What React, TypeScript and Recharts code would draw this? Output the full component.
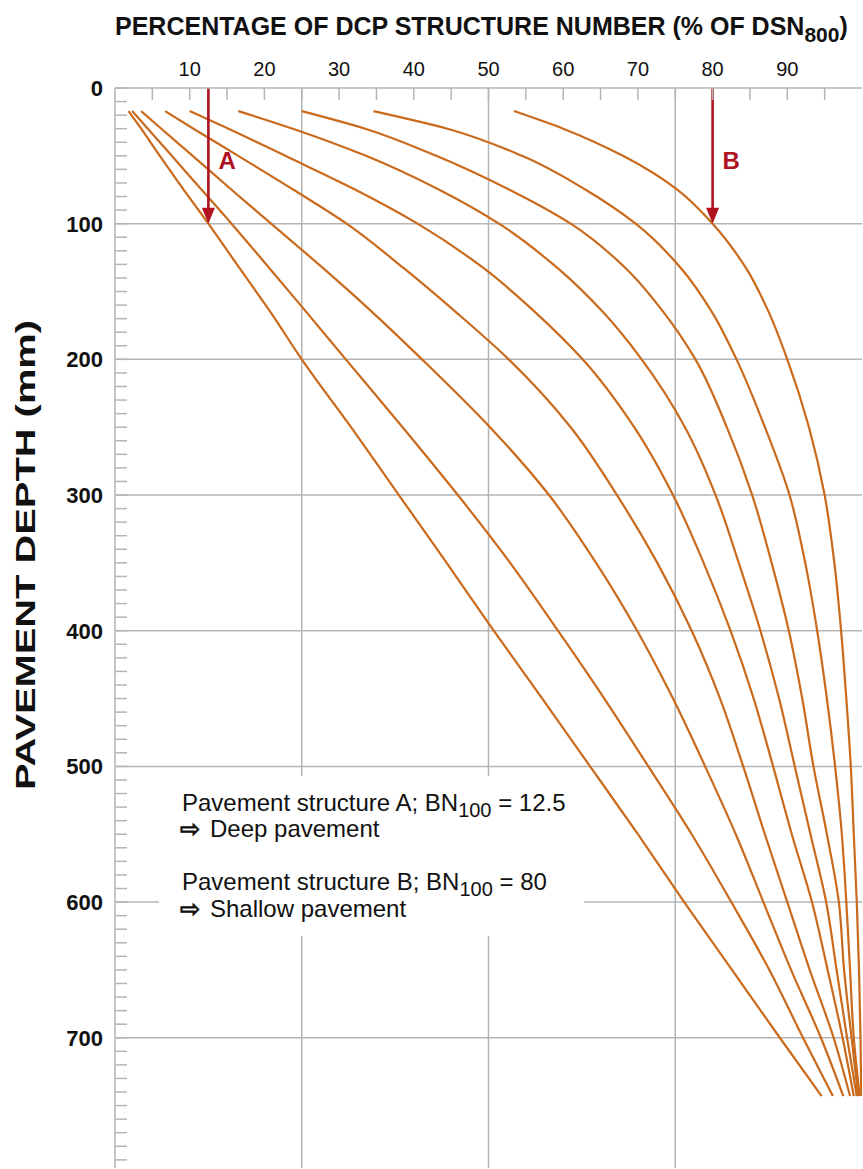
import React from 'react';
import { LineChart, Line, XAxis, YAxis, ReferenceLine } from 'recharts';

const DEPTHS = [17, 30, 50, 75, 100, 133, 165, 200, 250, 300, 350, 400, 450, 500, 550, 600, 650, 700, 743];

// percentage of DSN800 for each curve, same order as DEPTHS
const CURVE_1 = [1.8, 3.5, 6.0, 9.2, 12.5, 16.7, 20.8, 25.0, 31.6, 38.0, 44.4, 50.7, 57.2, 63.6, 70.0, 76.2, 82.6, 89.0, 94.6];
const CURVE_2 = [2.3, 4.4, 7.6, 11.6, 15.6, 20.7, 25.6, 30.9, 38.5, 45.9, 52.9, 59.3, 65.5, 71.4, 77.2, 82.5, 87.6, 92.1, 96.1];
const CURVE_3 = [3.5, 6.2, 10.4, 15.6, 20.9, 27.9, 34.4, 41.1, 50.2, 58.1, 64.4, 69.9, 74.7, 79.0, 83.1, 86.8, 90.5, 94.5, 97.5];
const CURVE_4 = [6.7, 10.5, 16.5, 23.9, 31.0, 38.7, 45.6, 52.7, 61.0, 67.2, 72.6, 77.2, 81.0, 84.1, 87.0, 90.0, 93.0, 96.2, 98.4];
const CURVE_5 = [10.0, 15.2, 22.8, 32.2, 40.5, 49.4, 56.2, 62.6, 69.5, 74.7, 78.8, 82.4, 85.5, 88.1, 90.6, 93.3, 95.4, 97.4, 98.9];
const CURVE_6 = [16.5, 23.8, 33.6, 43.4, 51.4, 59.3, 65.3, 70.5, 76.3, 80.4, 83.5, 86.4, 88.9, 91.0, 93.1, 95.2, 96.6, 98.0, 99.3];
const CURVE_7 = [25.0, 33.5, 43.0, 52.8, 61.0, 68.4, 73.4, 77.7, 81.9, 85.3, 87.9, 90.2, 92.0, 93.5, 95.3, 96.9, 97.6, 98.6, 99.5];
const CURVE_8 = [34.6, 44.5, 54.5, 63.0, 69.7, 75.8, 79.9, 83.2, 87.0, 90.3, 92.4, 94.0, 95.3, 96.4, 97.3, 97.9, 98.4, 98.9, 99.7];
const CURVE_9 = [53.4, 60.0, 68.0, 75.3, 80.0, 84.5, 87.5, 90.0, 92.9, 95.0, 96.3, 97.2, 97.9, 98.5, 98.9, 99.3, 99.6, 99.8, 99.9];

const CURVES = [CURVE_1, CURVE_2, CURVE_3, CURVE_4, CURVE_5, CURVE_6, CURVE_7, CURVE_8, CURVE_9];

const X_TICKS = [5, 10, 15, 20, 25, 30, 35, 40, 45, 50, 55, 60, 65, 70, 75, 80, 85, 90, 95];
const X_GRID = [25, 50, 75];
const Y_TICKS = Array.from({ length: 80 }, (_, i) => i * 10);
const Y_GRID = [100, 200, 300, 400, 500, 600, 700];

// the two worked examples: BN100 read at 100 mm depth
const EXAMPLES = [
  { name: 'A', bn: 12.5, depth: 100 },
  { name: 'B', bn: 80, depth: 100 },
];

const W = 863;
const H = 1169;
const FONT = '"Liberation Sans", Arial, Helvetica, sans-serif';
const GRID = '#b5b5b5';
const ORANGE = '#c96a1d';
const RED = '#b0121f';

function TopTick(props: any) {
  const { x, y, payload } = props;
  const v = payload.value;
  return (
    <g>
      <line x1={x} y1={y} x2={x} y2={y + 12} stroke={GRID} strokeWidth={1.5} />
      {v % 10 === 0 && (
        <text x={x} y={y - 12} textAnchor="middle" fontFamily={FONT} fontSize={20} fill="#111">
          {v}
        </text>
      )}
    </g>
  );
}

function LeftTick(props: any) {
  const { x, y, payload } = props;
  const v = payload.value;
  return (
    <g>
      <line x1={x} y1={y} x2={x + 12} y2={y} stroke={GRID} strokeWidth={1.5} />
      {v % 100 === 0 && v <= 700 && (
        <text x={x - 12} y={y + 8} textAnchor="end" fontFamily={FONT} fontSize={22} fontWeight="bold" fill="#111">
          {v}
        </text>
      )}
    </g>
  );
}

const arrowShape = (label: string) => (p: any) => {
  const { x1, y1, x2, y2 } = p;
  const head = 16;
  return (
    <g>
      <line x1={x1} y1={y1} x2={x2} y2={y2 - head + 2} stroke={RED} strokeWidth={2.6} />
      <polygon points={`${x2 - 6.5},${y2 - head} ${x2 + 6.5},${y2 - head} ${x2},${y2}`} fill={RED} />
      <text x={x1 + 10} y={(y1 + y2) / 2 + 13} fontFamily={FONT} fontSize={24} fontWeight="bold" fill={RED}>
        {label}
      </text>
    </g>
  );
};

export default function App() {
  const rows = CURVES.map((c) => DEPTHS.map((d, i) => ({ d, v: c[i] })));
  return (
    <div style={{ position: 'absolute', left: 0, top: 0, width: W, height: H, background: '#fff', overflow: 'hidden' }}>
      <LineChart
        width={W}
        height={H}
        layout="vertical"
        margin={{ top: 58, right: 1, bottom: 1, left: 0 }}
        style={{ position: 'absolute', left: 0, top: 0 }}
      >
        <XAxis
          type="number"
          orientation="top"
          domain={[0, 100]}
          ticks={X_TICKS}
          interval={0}
          height={30}
          tickSize={0}
          tickMargin={0}
          tickLine={false}
          axisLine={{ stroke: GRID, strokeWidth: 1.5 }}
          tick={<TopTick />}
          allowDataOverflow
        />
        <YAxis
          type="number"
          dataKey="d"
          domain={[0, 796]}
          ticks={Y_TICKS}
          interval={0}
          width={115}
          tickSize={0}
          tickMargin={0}
          tickLine={false}
          axisLine={{ stroke: GRID, strokeWidth: 1.5 }}
          tick={<LeftTick />}
          allowDataOverflow
        />
        {X_GRID.map((v) => (
          <ReferenceLine key={`gx${v}`} x={v} stroke={GRID} strokeWidth={1.5} />
        ))}
        {Y_GRID.map((v) => (
          <ReferenceLine key={`gy${v}`} y={v} stroke={GRID} strokeWidth={1.5} />
        ))}
        {rows.map((r, i) => (
          <Line
            key={i}
            data={r}
            dataKey="v"
            type="monotone"
            stroke={ORANGE}
            strokeWidth={2.2}
            dot={false}
            activeDot={false}
            isAnimationActive={false}
          />
        ))}
        {EXAMPLES.map((e) => (
          <ReferenceLine
            key={e.name}
            segment={[
              { x: e.bn, y: 0 },
              { x: e.bn, y: e.depth },
            ]}
            shape={arrowShape(e.name)}
          />
        ))}
      </LineChart>
      <svg width={W} height={H} style={{ position: 'absolute', left: 0, top: 0, pointerEvents: 'none' }}>
        <g fontFamily={FONT} fontWeight="bold" fill="#111">
          <text x={115} y={35} fontSize={25}>
            PERCENTAGE OF DCP STRUCTURE NUMBER (% OF DSN
            <tspan fontSize={21} dy={7}>800</tspan>
            <tspan dy={-7}>)</tspan>
          </text>
          <text
            transform="translate(35,555) rotate(-90)"
            textAnchor="middle"
            fontSize={28}
            textLength={470}
            lengthAdjust="spacingAndGlyphs"
          >
            PAVEMENT DEPTH (mm)
          </text>
        </g>
        <rect x={159} y={776} width={425} height={160} fill="#fff" />
        <g fontFamily={FONT} fontSize={24} fill="#111">
          <text x={182} y={811}>
            Pavement structure A; BN<tspan fontSize={20} dy={6}>100</tspan>
            <tspan dy={-6}> = 12.5</tspan>
          </text>
          <text x={180} y={837}>
            <tspan fontFamily="DejaVu Sans" fontSize={24} stroke="#111" strokeWidth={0.9}>⇨</tspan>
            <tspan x={210}>Deep pavement</tspan>
          </text>
          <text x={182} y={890}>
            Pavement structure B; BN<tspan fontSize={20} dy={6}>100</tspan>
            <tspan dy={-6}> = 80</tspan>
          </text>
          <text x={180} y={917}>
            <tspan fontFamily="DejaVu Sans" fontSize={24} stroke="#111" strokeWidth={0.9}>⇨</tspan>
            <tspan x={210}>Shallow pavement</tspan>
          </text>
        </g>
      </svg>
    </div>
  );
}
